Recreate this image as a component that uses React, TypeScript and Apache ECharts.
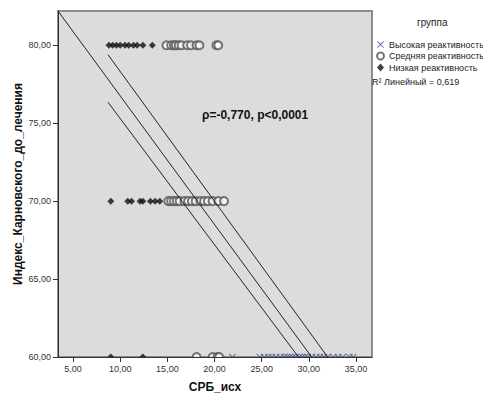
import React, { useEffect, useRef } from "react";
import * as echarts from "echarts";

// Axis ticks
const xTicks = [5, 10, 15, 20, 25, 30, 35];
const yTicks = [60, 65, 70, 75, 80];
const xMin = 3.4;
const xMax = 36.7;
const yMin = 60;
const yMax = 82.2;

// Низкая реактивность (diamonds)
const lowX80 = [8.8, 9.2, 9.6, 10.0, 10.5, 10.9, 11.4, 11.8, 12.4, 13.4];
const lowX70 = [9.0, 10.8, 11.2, 12.1, 12.4, 13.2, 13.7, 14.2];
const lowX60 = [9.0, 12.4];

// Средняя реактивность (circles)
const midX80 = [14.9, 15.4, 15.7, 15.9, 16.2, 16.5, 17.1, 17.5, 18.1, 18.4, 20.2, 20.4];
const midX70 = [15.1, 15.4, 15.7, 16.0, 16.3, 16.8, 17.2, 17.6, 18.0, 18.5, 18.9, 19.3, 19.8, 20.4, 21.0];
const midX60 = [18.1, 19.8, 20.3, 20.5];

// Высокая реактивность (crosses)
const highX60 = [21.9, 24.8, 25.3, 25.7, 26.1, 26.5, 27.0, 27.4, 27.7, 28.0, 28.3, 28.6, 29.0, 29.3, 29.6, 29.9, 30.3, 30.8, 31.2, 31.6, 32.0, 32.6, 33.1, 33.6, 34.3, 34.7];

// Fit line and confidence bounds (endpoints)
const fitX = [3.4, 30.3];
const fitY = [82.2, 60];
const ciUpX = [8.7, 32.0];
const ciUpY = [79.4, 60];
const ciLoX = [8.7, 28.9];
const ciLoY = [76.35, 60];

const groupNames = ["Высокая реактивность", "Средняя реактивность", "Низкая реактивность"];
const annotation = "ρ=-0,770, p<0,0001";
const r2Text = "R² Линейный = 0,619";

const crossPath =
  "path://M0,1 L1,0 L5,4 L9,0 L10,1 L6,5 L10,9 L9,10 L5,6 L1,10 L0,9 L4,5 Z";

const pts = (xs: number[], y: number) => xs.map((x) => [x, y]);
const pair = (xs: number[], ys: number[]) => xs.map((x, i) => [x, ys[i]]);
const fmt = (v: number) => v.toFixed(2).replace(".", ",");

export default function App() {
  const ref = useRef<HTMLDivElement>(null);
  useEffect(() => {
    if (!ref.current) return;
    const chart = echarts.init(ref.current, undefined, { renderer: "svg" });
    const lineSeries = (data: number[][]) => ({
      type: "line",
      data,
      symbol: "none",
      silent: true,
      z: 3,
      lineStyle: { color: "#222", width: 1 },
    });
    chart.setOption({
      animation: false,
      textStyle: { fontFamily: "Liberation Sans, Arial, sans-serif" },
      grid: {
        left: 58,
        top: 11,
        width: 314,
        height: 346,
        outerBoundsMode: "none",
        containLabel: false,
        show: true,
        backgroundColor: "#dcdcdc",
        borderColor: "#8c8c8c",
        borderWidth: 2,
      },
      xAxis: {
        type: "value",
        min: xMin,
        max: xMax,
        z: 6,
        name: "СРБ_исх",
        nameLocation: "middle",
        nameGap: 24,
        nameMoveOverlap: false,
        nameTextStyle: { fontSize: 12, fontWeight: "bold", color: "#111" },
        axisLine: { lineStyle: { color: "#333", width: 1 } },
        axisTick: { show: true, length: 5, customValues: xTicks, lineStyle: { color: "#333" } },
        axisLabel: { customValues: xTicks, formatter: fmt, fontSize: 9, color: "#333", margin: 7 },
        splitLine: { show: false },
      },
      yAxis: {
        type: "value",
        min: yMin,
        max: yMax,
        z: 6,
        name: "Индекс_Карновского_до_лечения",
        nameLocation: "middle",
        nameGap: 34,
        nameMoveOverlap: false,
        nameTextStyle: { fontSize: 12, fontWeight: "bold", color: "#111" },
        axisLine: { show: true, lineStyle: { color: "#333", width: 1 } },
        axisTick: { show: true, length: 5, customValues: yTicks, lineStyle: { color: "#333" } },
        axisLabel: { customValues: yTicks, formatter: fmt, fontSize: 9, color: "#333", margin: 7 },
        splitLine: { show: false },
      },
      legend: {
        orient: "vertical",
        left: 371,
        top: 35,
        itemWidth: 7,
        itemHeight: 8,
        itemGap: 2.5,
        textStyle: { fontSize: 9, color: "#222" },
        data: groupNames,
      },
      graphic: [
        {
          type: "text",
          left: 417,
          top: 17,
          style: { text: "группа", fill: "#222", font: "10px Liberation Sans, Arial, sans-serif" },
        },
        {
          type: "text",
          left: 372,
          top: 77,
          style: { text: r2Text, fill: "#222", font: "9px Liberation Sans, Arial, sans-serif" },
        },
        {
          type: "text",
          left: 202,
          top: 109,
          z: 5,
          style: { text: annotation, fill: "#111", font: "bold 12px Liberation Sans, Arial, sans-serif" },
        },
        {
          type: "rect",
          shape: { x: 58, y: 358, width: 316, height: 8 },
          style: { fill: "#ffffff" },
          z: 4,
          silent: true,
        },
      ],
      series: [
        {
          name: groupNames[0],
          type: "scatter",
          symbol: crossPath,
          symbolSize: 7,
          itemStyle: { color: "#4a5895" },
          z: 2,
          data: pts(highX60, 60),
        },
        {
          name: groupNames[1],
          type: "scatter",
          symbol: "emptyCircle",
          symbolSize: 8,
          itemStyle: { color: "#555", borderWidth: 1 },
          z: 2,
          data: [...pts(midX80, 80), ...pts(midX70, 70), ...pts(midX60, 60)],
        },
        {
          name: groupNames[2],
          type: "scatter",
          symbol: "diamond",
          symbolSize: 7,
          itemStyle: { color: "#111" },
          z: 2,
          data: [...pts(lowX80, 80), ...pts(lowX70, 70), ...pts(lowX60, 60)],
        },
        lineSeries(pair(fitX, fitY)),
        lineSeries(pair(ciUpX, ciUpY)),
        lineSeries(pair(ciLoX, ciLoY)),
      ],
    });
    return () => chart.dispose();
  }, []);
  return (
    <div
      ref={ref}
      style={{ position: "fixed", left: 0, top: 0, width: 483, height: 394, background: "#fff" }}
    />
  );
}
